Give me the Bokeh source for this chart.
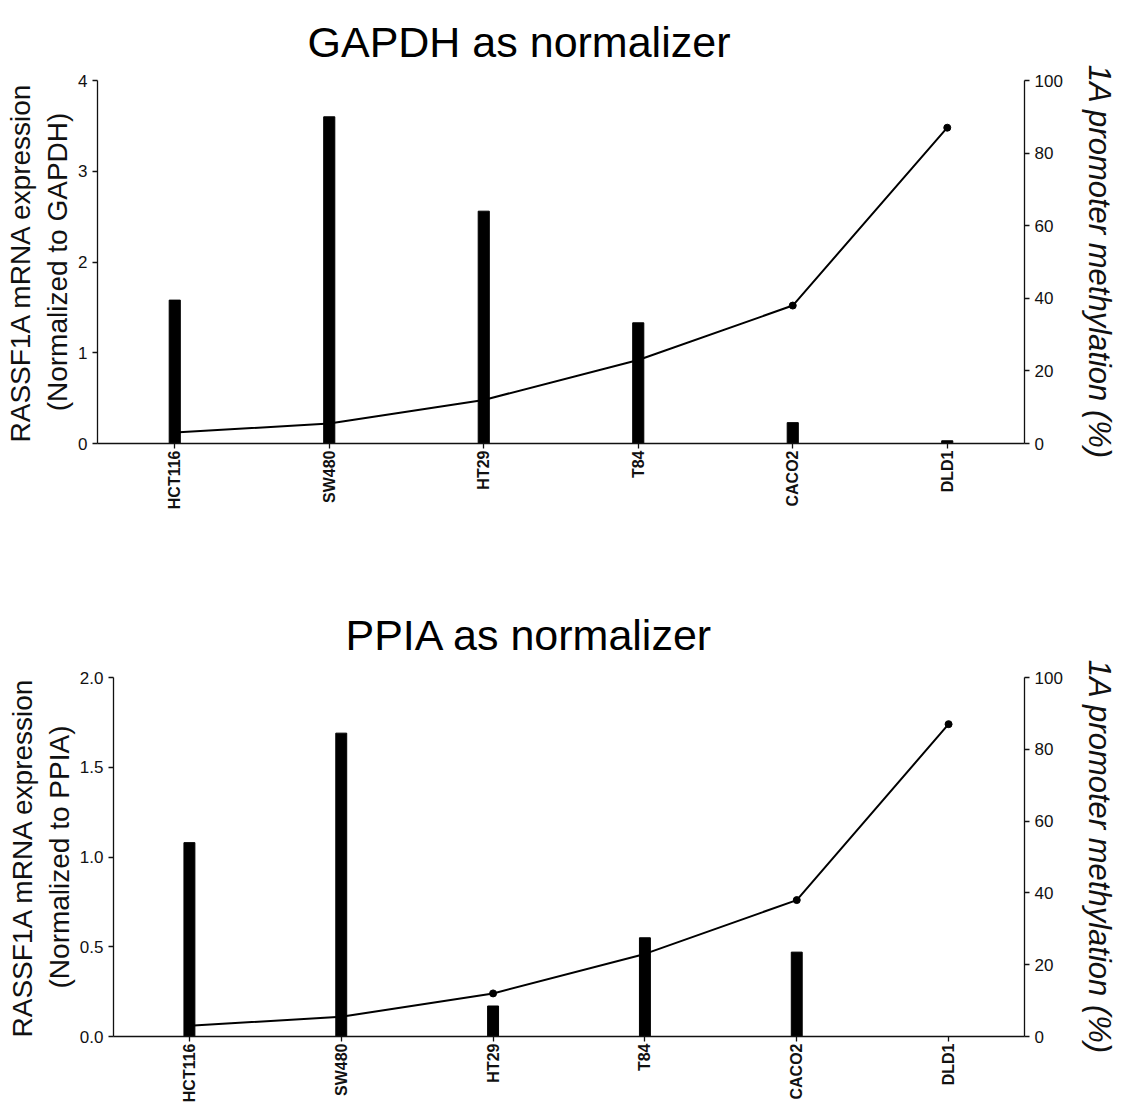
import math
from bokeh.plotting import figure
from bokeh.models import (FactorRange, Range1d, LinearAxis, FixedTicker,
                          PrintfTickFormatter, Title)
from bokeh.layouts import column
from bokeh.embed import file_html
from bokeh.resources import INLINE

# ---- data ----
cell_lines = ["HCT116", "SW480", "HT29", "T84", "CACO2", "DLD1"]
gapdh_expr = [1.58, 3.60, 2.56, 1.33, 0.23, 0.03]
ppia_expr = [1.08, 1.69, 0.17, 0.55, 0.47, 0.0]
methylation = [3.0, 5.5, 12.0, 23.0, 38.0, 87.0]
gapdh_ticks = [0, 1, 2, 3, 4]
ppia_ticks = [0.0, 0.5, 1.0, 1.5, 2.0]
meth_ticks = [0, 20, 40, 60, 80, 100]

FONT = "Liberation Sans"


def style_axis(ax):
    ax.axis_line_color = "#111111"
    ax.axis_line_width = 1.3
    ax.major_tick_line_color = "#111111"
    ax.major_tick_line_width = 1.3
    ax.major_tick_out = 5
    ax.major_tick_in = 0
    ax.minor_tick_out = 0
    ax.minor_tick_in = 0
    ax.major_label_text_font = FONT
    ax.major_label_text_color = "#111111"
    ax.axis_label_text_font = FONT
    ax.axis_label_text_color = "#111111"


def make(title, expr, ymax, yticks, fmt, ylabel, height, top, bottom, left,
         t_offset, t_standoff):
    p = figure(width=1120, height=height,
               x_range=FactorRange(factors=cell_lines, range_padding=0),
               y_range=Range1d(0, ymax),
               output_backend="svg", toolbar_location=None,
               min_border_left=left, min_border_right=96,
               min_border_top=top, min_border_bottom=bottom)
    p.outline_line_color = None
    p.xgrid.visible = False
    p.ygrid.visible = False

    t = Title(text=title, text_font=FONT, text_font_size="43px",
              text_font_style="normal", text_color="#000000",
              align="left", offset=t_offset, standoff=t_standoff)
    p.add_layout(t, "above")

    p.extra_y_ranges = {"meth": Range1d(0, 100)}

    p.vbar(x=cell_lines, top=expr, width=0.072, color="black")
    p.line(x=cell_lines, y=methylation, y_range_name="meth",
           line_color="black", line_width=2)
    p.scatter(x=cell_lines, y=methylation, y_range_name="meth",
              size=7, color="black")

    # left axis
    ya = p.yaxis[0]
    style_axis(ya)
    ya.ticker = FixedTicker(ticks=yticks)
    if fmt:
        ya.formatter = PrintfTickFormatter(format=fmt)
    ya.major_label_text_font_size = "17px"
    ya.axis_label = ylabel
    ya.axis_label_text_font_size = "28px"
    ya.axis_label_text_font_style = "normal"
    ya.axis_label_standoff = 2

    # right axis
    ra = LinearAxis(y_range_name="meth", axis_label="1A promoter methylation (%)")
    style_axis(ra)
    ra.ticker = FixedTicker(ticks=meth_ticks)
    ra.major_label_text_font_size = "17px"
    ra.axis_label_text_font_size = "31px"
    ra.axis_label_text_font_style = "italic"
    ra.axis_label_standoff = 16
    p.add_layout(ra, "right")

    # x axis
    xa = p.xaxis[0]
    style_axis(xa)
    xa.major_label_orientation = math.pi / 2
    xa.major_label_text_font_size = "16px"
    xa.major_label_text_font_style = "bold"
    xa.major_label_standoff = 2
    return p


p1 = make("GAPDH as normalizer", gapdh_expr, 4, gapdh_ticks, None,
          "RASSF1A mRNA expression\n(Normalized to GAPDH)",
          590, 80, 147, 97, 210, 30)
p2 = make("PPIA as normalizer", ppia_expr, 2, ppia_ticks, "%.1f",
          "RASSF1A mRNA expression\n(Normalized to PPIA)",
          515, 87, 69, 113, 232, 37)

layout = column(column(p1), column(p2), spacing=0)
open("out.html", "w").write(file_html(layout, INLINE))
